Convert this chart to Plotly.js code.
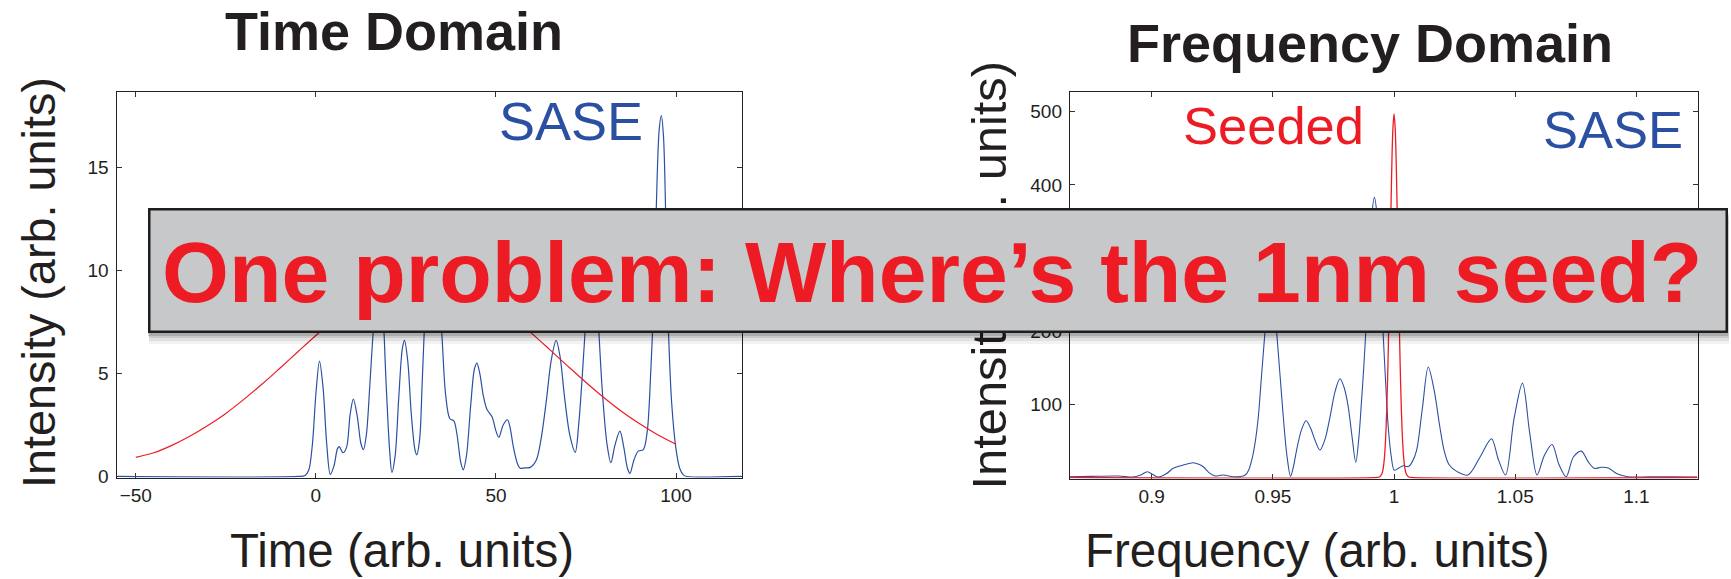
<!DOCTYPE html>
<html>
<head>
<meta charset="utf-8">
<script src="https://cdn.plot.ly/plotly-3.0.1.min.js"></script>
<style>
  html, body { margin: 0; padding: 0; background: #ffffff; }
  #chart { width: 1731px; height: 579px; }
</style>
</head>
<body>
<div id="chart"></div>
<script>
// ---- Time domain: SASE pulse intensity ----
const sasePulseTime = [
  -55, -5, -3, -2, -1, 0, 1, 2, 3, 4, 5, 6, 6.5, 7.5, 8.5, 9.5, 10.4, 11.5, 12.5, 13.2,
  14, 15, 16, 17, 17.7, 18.5, 19.5, 20.5, 21.1, 22, 23, 24, 24.6, 25.5, 26.5, 27.5, 28,
  28.8, 29.5, 30.2, 31, 32, 33, 34, 35, 36, 37.2, 38.3, 39.2, 40.2, 40.9, 41.8, 43, 44,
  44.7, 45.5, 46.5, 47.5, 48.9, 50, 50.8, 52, 53.2, 54, 54.8, 56, 56.7, 58, 59.5, 61.2,
  62.5, 64, 65.3, 66.7, 67.8, 69, 70.5, 72, 73, 74, 75, 76, 76.8, 77.6, 78.4, 79.5, 80.8,
  81.9, 83, 84.4, 85.5, 86.5, 87.2, 88.3, 89.5, 90.9, 92, 93, 93.7, 94.5, 95.3, 95.9,
  96.5, 97.2, 97.9, 98.8, 100, 101, 102, 103, 118
];
const sasePulseIntensity = [
  0, 0, 0.05, 0.3, 1.5, 4.0, 5.6, 4.3, 1.6, 0.1, 0.5, 1.35, 1.45, 1.15, 1.4, 3.0, 3.75, 2.9, 1.6, 1.3,
  2.0, 4.5, 7.3, 9.5, 10.0, 8.5, 4.5, 1.2, 0.2, 1.0, 3.8, 6.2, 6.6, 5.6, 3.0, 1.3, 1.05,
  1.8, 4.5, 7.5, 10.0, 11.3, 11.0, 9.2, 6.8, 4.0, 2.8, 2.7, 2.0, 0.7, 0.32, 1.0, 3.5, 5.2,
  5.5, 5.0, 3.9, 3.25, 2.9, 2.2, 1.9, 2.5, 2.75, 2.3, 1.45, 0.6, 0.4, 0.42, 0.44, 0.8,
  1.8, 3.7, 5.6, 6.6, 5.8, 3.9, 2.0, 1.17, 2.6, 5.0, 7.8, 10.8, 11.8, 10.5, 7.6, 4.2, 1.6,
  0.67, 1.5, 2.2, 1.4, 0.4, 0.15, 0.8, 1.23, 1.3, 2.2, 5.2, 8.0, 13.0, 16.8, 17.5,
  16.5, 12.0, 7.0, 3.5, 1.3, 0.4, 0.08, 0, 0
];

// ---- Time domain: seed envelope ----
const seedTime = [
  -50, -45, -40, -35, -30, -25, -20, -15, -10, -5, 0, 5, 10, 15, 20, 25,
  30, 35, 40, 45, 50, 55, 60, 65, 70, 75, 80, 85, 90, 95, 100
];
const seedEnvelope = [
  0.93, 1.15, 1.51, 1.95, 2.47, 3.06, 3.74, 4.47, 5.25, 6.05, 6.84, 7.59, 8.27, 8.84, 9.27, 9.55,
  9.65, 9.57, 9.32, 8.90, 8.34, 7.68, 6.93, 6.14, 5.34, 4.56, 3.82, 3.14, 2.54, 2.01, 1.56
];

// ---- Frequency domain: SASE spectrum ----
const saseFreq = [
  0.8663, 0.875, 0.8862, 0.8924, 0.8955, 0.8982, 0.9005, 0.9027, 0.906, 0.9089, 0.913, 0.9172,
  0.9195, 0.9213, 0.9235, 0.9261, 0.9295, 0.9337, 0.9365, 0.9385, 0.94, 0.9413, 0.9427, 0.944,
  0.9453, 0.9467, 0.948, 0.9491, 0.9503, 0.9516, 0.953, 0.9543, 0.9558, 0.9573, 0.9585, 0.9598,
  0.9618, 0.9637, 0.9655, 0.9674, 0.9694, 0.9715, 0.9736, 0.9757, 0.9777, 0.9795, 0.9811, 0.9827,
  0.9842, 0.9855, 0.9866, 0.9875, 0.9883, 0.9895, 0.9907, 0.9919, 0.9931, 0.9943, 0.9955, 0.9966,
  0.9976, 0.9988, 1.0001, 1.002, 1.0038, 1.0059, 1.0076, 1.0093, 1.0117, 1.0141, 1.0165, 1.0189,
  1.0208, 1.0228, 1.026, 1.0305, 1.0355, 1.0402, 1.043, 1.046, 1.0495, 1.053, 1.056, 1.059,
  1.062, 1.0652, 1.068, 1.071, 1.074, 1.0773, 1.08, 1.0826, 1.0855, 1.0884, 1.092, 1.0965,
  1.105, 1.115, 1.1252
];
const saseSpectrum = [
  1, 1.5, 2, 0.5, 3.5, 7.9, 4, 0.5, 5, 12.5, 17, 20.2,
  18, 14.7, 7, 2, 3.4, 1, 1.2, 3, 10, 24, 48, 83,
  138, 197, 245, 265, 245, 197, 138, 83, 30, 1.5, 15, 37.5,
  65, 77.5, 68, 51, 37.5, 52, 83, 118, 135, 122, 96.6, 55,
  20.7, 55, 105.7, 150, 197, 280, 355, 383, 355, 280, 197, 125,
  69, 30, 10, 13, 16, 15, 22, 37, 95, 151, 120, 69,
  35, 17, 8, 3.4, 28, 53, 25, 3.4, 80, 129, 60, 3.4,
  30, 45, 18, 1, 28, 36, 22, 12.5, 14, 13, 5, 1,
  0.8, 1, 0.5
];

// ---- Frequency domain: seeded spectrum ----
const seededFreq = [
  0.8663, 0.993, 0.994, 0.995, 0.9955, 0.996, 0.9965, 0.997, 0.9975, 0.998, 0.9985, 0.999, 0.9995,
  1.0, 1.0005, 1.001, 1.0015, 1.002, 1.0025, 1.003, 1.0035, 1.004, 1.0045, 1.005, 1.006, 1.007, 1.1252
];
const seededSpectrum = [
  0, 0, 0.67, 5, 12, 26, 52, 95, 157, 238, 328, 414, 475,
  497, 475, 414, 328, 238, 157, 95, 52, 26, 12, 5, 0.67, 0, 0
];

// ---- Tick labels ----
const timeTicks = [-50, 0, 50, 100];
const timeIntensityTicks = [0, 5, 10, 15];
const freqTicks = [0.9, 0.95, 1, 1.05, 1.1];
const freqTickText = ['0.9', '0.95', '1', '1.05', '1.1'];
const freqIntensityTicks = [100, 200, 300, 400, 500];

// ---- Styling ----
const W = 1731, H = 579;
const FONT = 'Liberation Sans, Arial, Helvetica, sans-serif';
const INK = '#231f20';
const BLUE = '#2b50a2';
const RED = '#ed1c24';
const px = x => x / W;
const py = y => 1 - y / H;

const axisStyle = {
  ticks: 'inside', ticklen: 5, tickwidth: 1, tickcolor: '#333',
  mirror: 'ticks', showline: true, linecolor: '#222', linewidth: 1.2,
  showgrid: false, zeroline: false, layer: 'below traces',
  tickfont: { family: FONT, size: 19, color: INK }
};

const traces = [
  { x: sasePulseTime, y: sasePulseIntensity, xaxis: 'x', yaxis: 'y', type: 'scatter', mode: 'lines',
    line: { color: BLUE, width: 1.2, shape: 'spline', smoothing: 0.9 } },
  { x: seedTime, y: seedEnvelope, xaxis: 'x', yaxis: 'y', type: 'scatter', mode: 'lines',
    line: { color: RED, width: 1.2, shape: 'spline' } },
  { x: saseFreq, y: saseSpectrum, xaxis: 'x2', yaxis: 'y2', type: 'scatter', mode: 'lines',
    line: { color: BLUE, width: 1.1, shape: 'spline', smoothing: 0.9 } },
  { x: seededFreq, y: seededSpectrum, xaxis: 'x2', yaxis: 'y2', type: 'scatter', mode: 'lines',
    line: { color: RED, width: 1.3, shape: 'spline', smoothing: 0.9 } }
];

function label(text, x, y, size, opts) {
  return Object.assign({
    text: text, xref: 'paper', yref: 'paper', x: px(x), y: py(y),
    xanchor: 'center', yanchor: 'middle', showarrow: false,
    font: { family: FONT, size: size, color: INK }
  }, opts || {});
}

// Banner geometry (pixels)
const bannerL = 148, bannerT = 208, bannerW = 1580, bannerH = 125, bannerBorder = 2.5;

function bannerRect(dx, dy, fill, border) {
  return {
    text: ' ', xref: 'paper', yref: 'paper', x: px(bannerL + dx), y: py(bannerT + dy),
    xanchor: 'left', yanchor: 'top', showarrow: false,
    width: bannerW - 2 * border, height: bannerH - 2 * border,
    borderpad: 0, borderwidth: border, bordercolor: border ? '#1e1e1e' : 'rgba(0,0,0,0)',
    bgcolor: fill, font: { family: FONT, size: 10, color: INK }
  };
}

const annotations = [
  label('<b>Time Domain</b>', 394, 31.5, 54),
  label('<b>Frequency Domain</b>', 1370, 43, 54),
  label('Time (arb. units)', 402, 550.5, 47.5),
  label('Frequency (arb. units)', 1317, 550.5, 47.5),
  label('Intensity (arb. units)', 38.5, 282.5, 46.8, { textangle: -90 }),
  label('Intensity (arb. units)', 988, 275.5, 48.8, { textangle: -90 }),
  label('SASE', 497, 121, 54, { xanchor: 'left', font: { family: FONT, size: 54, color: BLUE } }),
  label('Seeded', 1181, 125.5, 52.5, { xanchor: 'left', font: { family: FONT, size: 52.5, color: RED } }),
  label('SASE', 1541, 129.5, 52.5, { xanchor: 'left', font: { family: FONT, size: 52.5, color: BLUE } }),
  // soft drop shadow under the banner
  bannerRect(1, 11, 'rgba(0,0,0,0.05)', 0),
  bannerRect(1, 8, 'rgba(0,0,0,0.07)', 0),
  bannerRect(1, 5, 'rgba(0,0,0,0.10)', 0),
  bannerRect(0, 2.5, 'rgba(0,0,0,0.15)', 0),
  bannerRect(0, 0, 'rgb(199,200,202)', bannerBorder),
  label('<b>One problem: Where’s the 1nm seed?</b>', 932, 271.5, 86,
        { font: { family: FONT, size: 86, color: RED } })
];

const layout = {
  width: W, height: H,
  margin: { l: 0, r: 0, t: 0, b: 0, pad: 0 },
  paper_bgcolor: '#ffffff', plot_bgcolor: '#ffffff',
  showlegend: false,
  xaxis: Object.assign({}, axisStyle, {
    domain: [px(116.7), px(742)], range: [-55.3, 118.3],
    tickvals: timeTicks, anchor: 'y'
  }),
  yaxis: Object.assign({}, axisStyle, {
    domain: [py(477.5), py(92)], range: [-0.05, 18.65],
    tickvals: timeIntensityTicks, anchor: 'x', ticklabelstandoff: 3
  }),
  xaxis2: Object.assign({}, axisStyle, {
    domain: [px(1070), px(1697.5)], range: [0.8663, 1.1252],
    tickvals: freqTicks, ticktext: freqTickText, anchor: 'y2'
  }),
  yaxis2: Object.assign({}, axisStyle, {
    domain: [py(478.5), py(92)], range: [-1.4, 527],
    tickvals: freqIntensityTicks, anchor: 'x2', ticklabelstandoff: 3
  }),
  annotations: annotations
};

Plotly.newPlot('chart', traces, layout, { staticPlot: true, displayModeBar: false });
</script>
</body>
</html>
